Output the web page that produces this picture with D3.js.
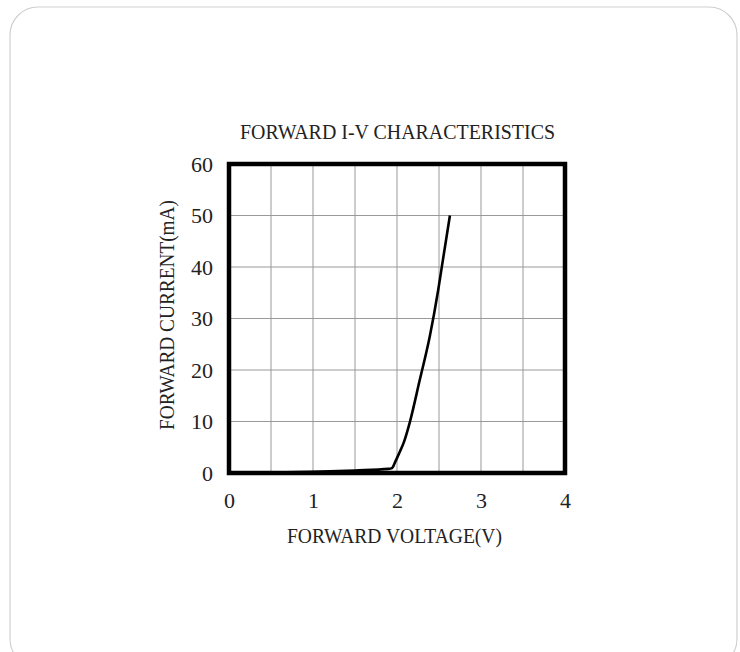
<!DOCTYPE html>
<html><head><meta charset="utf-8">
<script src="https://cdn.jsdelivr.net/npm/d3@7"></script>
<style>html,body{margin:0;padding:0;background:#fff;}svg{display:block;}</style>
</head><body>
<svg id="c" width="740" height="652"></svg>
<script>
const voltage = [0, 0.5, 1.0, 1.5, 1.9, 1.94, 1.98, 2.03, 2.08, 2.15, 2.27, 2.39, 2.49, 2.54, 2.63];
const current = [0, 0.1, 0.25, 0.5, 0.8, 0.95, 2.2, 4.0, 5.9, 9.7, 18, 26.5, 35.5, 40.7, 50];
const xTicks = [0, 1, 2, 3, 4];
const yTicks = [0, 10, 20, 30, 40, 50, 60];
const xGrid = [0.5, 1, 1.5, 2, 2.5, 3, 3.5];
const yGrid = [10, 20, 30, 40, 50];
const title = "FORWARD I-V CHARACTERISTICS";
const xTitle = "FORWARD VOLTAGE(V)";
const yTitle = "FORWARD CURRENT(mA)";

const svg = d3.select("#c");
const font = "'Liberation Serif', 'DejaVu Serif', serif";
svg.append("rect").attr("x",10).attr("y",7).attr("width",727).attr("height",660)
  .attr("rx",28).attr("fill","none").attr("stroke","#cfcfcf").attr("stroke-width",1.2);

const L=229,R=565,T=164,B=473;
const x = d3.scaleLinear().domain([0,4]).range([L,R]);
const y = d3.scaleLinear().domain([0,60]).range([B,T]);

const g = svg.append("g");
g.selectAll("line.vg").data(xGrid).join("line").attr("class","vg")
  .attr("x1",d=>x(d)).attr("x2",d=>x(d)).attr("y1",T).attr("y2",B)
  .attr("stroke","#999").attr("stroke-width",1);
g.selectAll("line.hg").data(yGrid).join("line").attr("class","hg")
  .attr("y1",d=>y(d)).attr("y2",d=>y(d)).attr("x1",L).attr("x2",R)
  .attr("stroke","#999").attr("stroke-width",1);

const pts = voltage.map((v,i)=>[v,current[i]]);
g.append("path").datum(pts)
  .attr("d", d3.line().x(d=>x(d[0])).y(d=>y(d[1])).curve(d3.curveMonotoneX))
  .attr("fill","none").attr("stroke","#000").attr("stroke-width",2.6);

g.append("rect").attr("x",L).attr("y",T).attr("width",R-L).attr("height",B-T)
  .attr("fill","none").attr("stroke","#000").attr("stroke-width",4.5);

const xa = svg.append("g").attr("transform",`translate(0,${B})`)
  .call(d3.axisBottom(x).tickValues(xTicks).tickSize(0).tickPadding(35).tickFormat(d3.format("d")));
xa.select(".domain").remove();
xa.selectAll("text").attr("font-family",font).attr("font-size",22).attr("fill","#222").attr("dy",0);
const ya = svg.append("g").attr("transform",`translate(${L},0)`)
  .call(d3.axisLeft(y).tickValues(yTicks).tickSize(0).tickPadding(16).tickFormat(d3.format("d")));
ya.select(".domain").remove();
ya.selectAll("text").attr("font-family",font).attr("font-size",22).attr("fill","#222");

svg.append("text").attr("x",397.5).attr("y",139).attr("text-anchor","middle")
  .attr("font-family",font).attr("font-size",21).attr("fill","#222")
  .attr("textLength",315).attr("lengthAdjust","spacingAndGlyphs").text(title);
svg.append("text").attr("x",394.5).attr("y",543).attr("text-anchor","middle")
  .attr("font-family",font).attr("font-size",21).attr("fill","#222")
  .attr("textLength",215).attr("lengthAdjust","spacingAndGlyphs").text(xTitle);
svg.append("text").attr("transform","translate(174,315) rotate(-90)").attr("text-anchor","middle")
  .attr("font-family",font).attr("font-size",21).attr("fill","#222")
  .attr("textLength",230).attr("lengthAdjust","spacingAndGlyphs").text(yTitle);
</script>
</body></html>
